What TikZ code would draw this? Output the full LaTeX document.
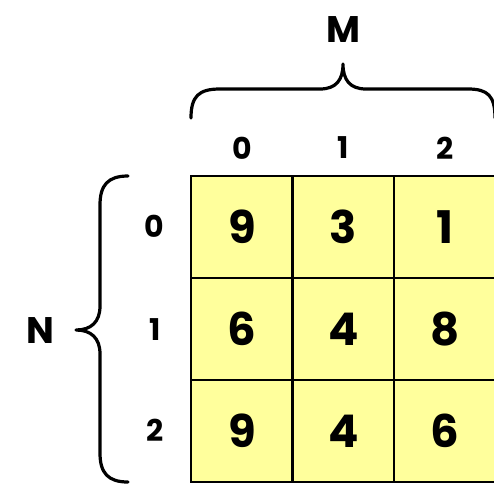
\documentclass[tikz,border=0pt]{standalone}
\usepackage{fontspec}
\setmainfont{Poppins}
\definecolor{cellyellow}{HTML}{FFFF9C}
\begin{document}
\begin{tikzpicture}[x=1pt,y=-1pt,
  cell/.style={draw, line width=2.6pt, fill=cellyellow, minimum width=102pt, minimum height=102pt, inner sep=0pt, font=\fontsize{45}{45}\selectfont\bfseries},
  idx/.style={inner sep=0pt, font=\fontsize{30}{30}\selectfont\bfseries},
  dim/.style={inner sep=0pt, font=\fontsize{37}{37}\selectfont\bfseries},
  bracestroke/.style={line width=3.2pt, line cap=round, line join=round}]
\clip (0,0) rectangle (494,483);
\fill[white] (0,0) rectangle (494,483);
% cells
\node[cell] (c00) at (242,227) {9};
\node[cell] (c01) at (343.5,227) {3};
\node[cell] (c02) at (445,227) {1};
\node[cell] (c10) at (242,329) {6};
\node[cell] (c11) at (343.5,329) {4};
\node[cell] (c12) at (445,329) {8};
\node[cell] (c20) at (242,431) {9};
\node[cell] (c21) at (343.5,431) {4};
\node[cell] (c22) at (445,431) {6};
% column indices
\node[idx] (col0) at (242,148) {0};
\node[idx] (col1) at (343,148) {1};
\node[idx] (col2) at (445,148) {2};
% row indices
\node[idx] (row0) at (154,226) {0};
\node[idx] (row1) at (155,330) {1};
\node[idx] (row2) at (155,430) {2};
% dimension labels
\node[dim] (m) at (343,30) {M};
\node[dim] (n) at (40,331) {N};
% top brace
\draw[bracestroke] (191,118) .. controls (191,96) and (199,89) .. (220,89) -- (320,89)
  .. controls (336,89) and (343,80) .. (343,64)
  .. controls (343,80) and (350,89) .. (366,89) -- (468,89)
  .. controls (488,89) and (495,96) .. (495,118);
% left brace
\draw[bracestroke] (128,176) .. controls (108,176) and (100,185) .. (100,205) -- (100,306)
  .. controls (100,322) and (91,330) .. (76,330)
  .. controls (91,330) and (100,338) .. (100,354) -- (100,453)
  .. controls (100,473) and (108,482) .. (128,482);
\end{tikzpicture}
\end{document}
